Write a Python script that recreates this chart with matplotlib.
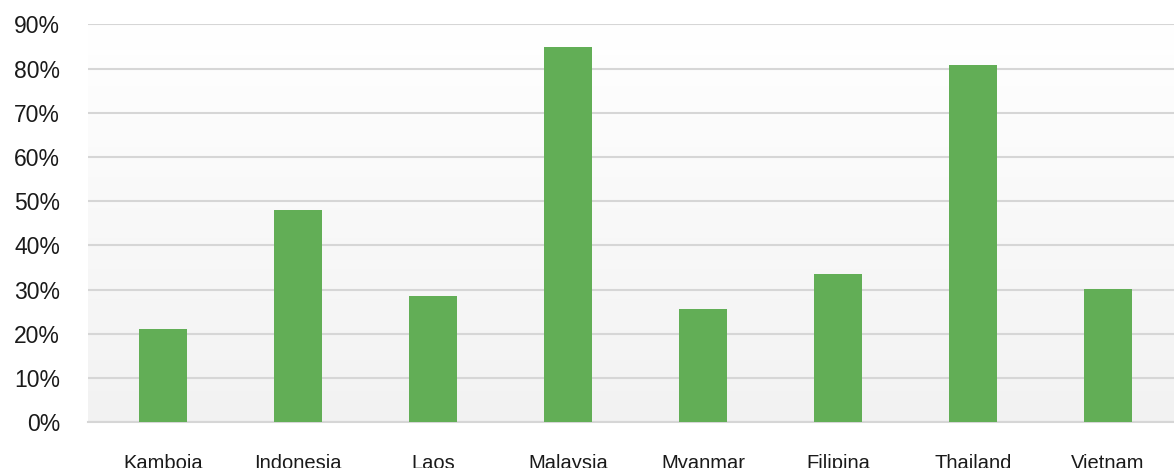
import matplotlib
matplotlib.use("Agg")
import matplotlib.pyplot as plt
import numpy as np
from matplotlib.ticker import FuncFormatter, MultipleLocator

categories = ["Kamboja", "Indonesia", "Laos", "Malaysia", "Myanmar", "Filipina", "Thailand", "Vietnam"]
values = [21.1, 48.0, 28.5, 84.8, 25.6, 33.5, 80.8, 30.1]

W, H = 1174, 468
fig = plt.figure(figsize=(W / 100, H / 100), dpi=100)
left, right = 88 / W, 1.0
bottom = (H - 422.3) / H
top = (H - 24.3) / H
ax = fig.add_axes([left, bottom, right - left, top - bottom])

ax.set_xlim(-0.556, 7.489)
ax.set_ylim(0, 90)

# gradient background
grad = np.linspace(0, 1, 256).reshape(-1, 1)
ax.imshow(grad, extent=(-0.556, 7.489, 0, 90), aspect="auto",
          cmap=matplotlib.colors.LinearSegmentedColormap.from_list("g", ["#F2F2F2", "#FFFFFF"]),
          origin="lower", zorder=0)

x = np.arange(len(categories))
ax.bar(x, values, width=0.356, color="#62AE56", zorder=3)

ax.yaxis.set_major_locator(MultipleLocator(10))
ax.yaxis.set_major_formatter(FuncFormatter(lambda v, p: f"{v:.0f}%"))
ax.grid(axis="y", color="#D6D6D6", linewidth=1.5, zorder=1)
ax.set_axisbelow(True)
for s in ["top", "right", "left"]:
    ax.spines[s].set_visible(False)
ax.spines["bottom"].set_color("#D6D6D6")
ax.spines["bottom"].set_linewidth(1.5)
ax.spines["bottom"].set_zorder(1)

ax.set_xticks(x)
ax.set_xticklabels(categories)
ax.tick_params(axis="x", length=0, pad=23, labelsize=14.5)
ax.tick_params(axis="y", length=0, pad=20, labelsize=16.5)
for lab in ax.get_xticklabels() + ax.get_yticklabels():
    lab.set_fontfamily("Liberation Sans")
    lab.set_color("#1A1A1A")
for lab in ax.get_yticklabels():
    lab.set_verticalalignment("center_baseline")

fig.savefig("out.png", dpi=100)
